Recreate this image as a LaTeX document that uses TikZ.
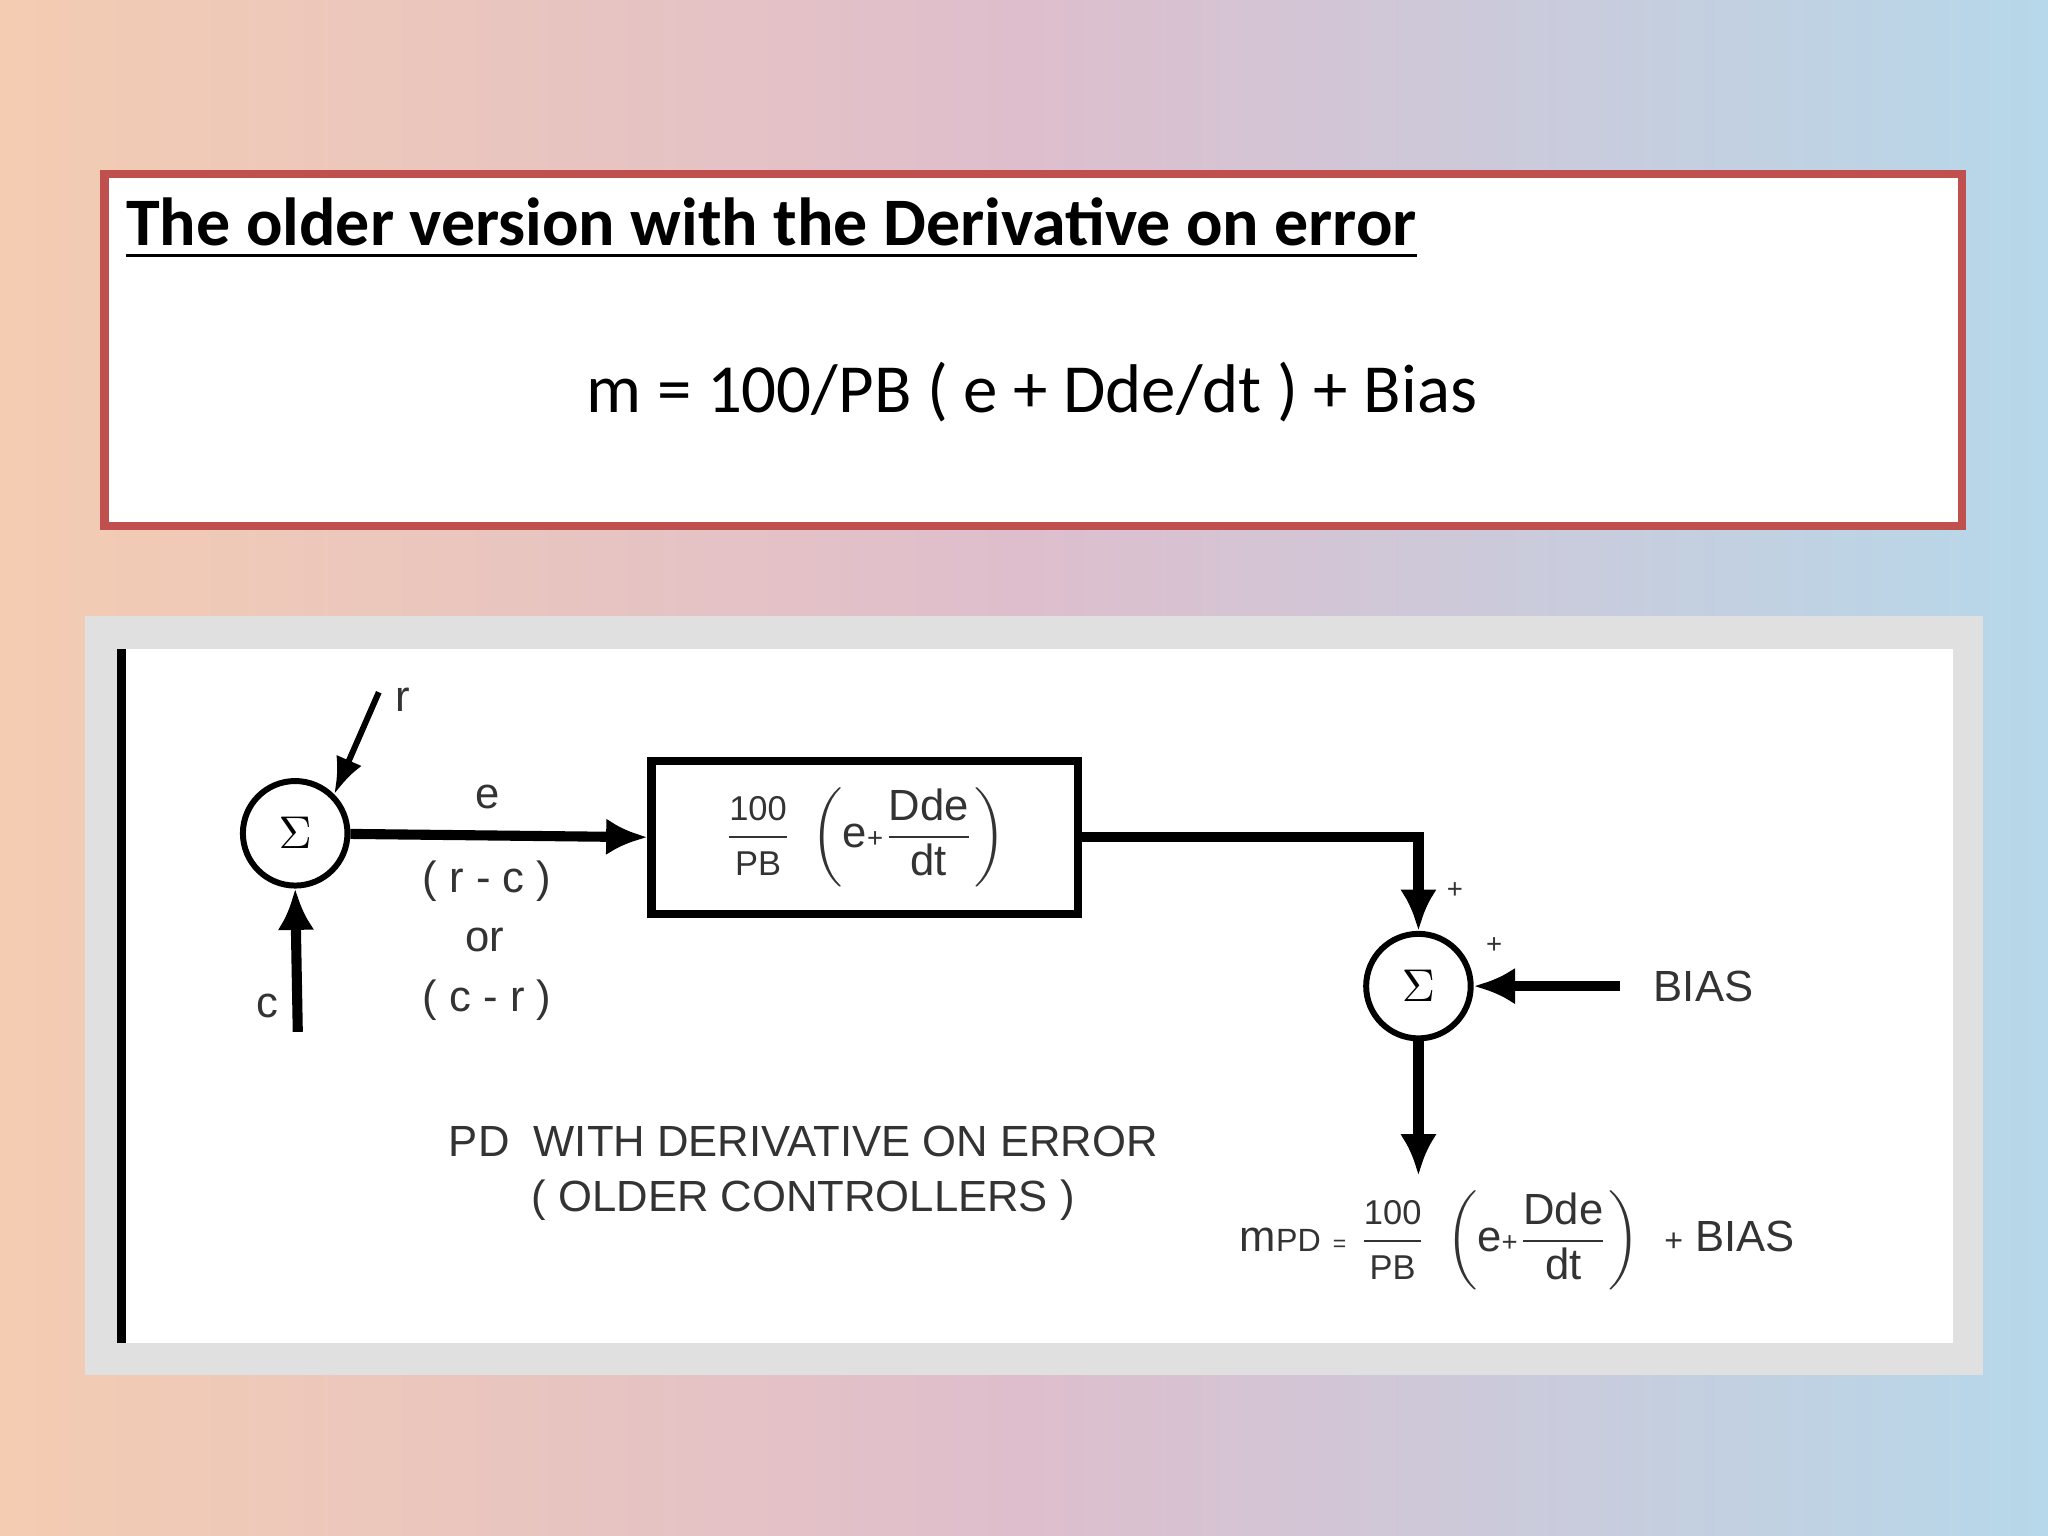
\documentclass[tikz,border=0pt]{standalone}
\usepackage{fontspec}
\setmainfont{Carlito}
\newfontfamily\arial{Liberation Sans}
\usepackage{amsmath}
\usetikzlibrary{arrows.meta}
\newcommand{\pdexpr}{$\displaystyle\frac{\text{\arial\fontsize{7.5}{9}\selectfont 100}}{\text{\arial\fontsize{7.5}{9}\selectfont PB}}\ \left(\text{\arial e{\fontsize{6}{7}\selectfont +}}\frac{\text{\arial Dde}}{\text{\arial dt}}\right)$}
\begin{document}
\begin{tikzpicture}[x=0.01cm,y=-0.01cm,
  lbl/.style={font=\arial\fontsize{9.5}{12}\selectfont, text=black!80, inner sep=1pt},
  arr/.style={line width=2.2pt,-{Latex[length=9pt,width=8pt]}},
  sumc/.style={circle, draw, line width=1.3pt, minimum size=0.8cm, inner sep=0pt, fill=white}]
\useasboundingbox (0,0) rectangle (1568,1176);
\shade[left color={rgb,255:red,244;green,204;blue,178}, right color={rgb,255:red,182;green,216;blue,234}, middle color={rgb,255:red,222;green,190;blue,205}] (0,0) rectangle (1568,1176);
% top box
\draw[fill=white, draw={rgb,255:red,192;green,80;blue,77}, line width=1.8pt] (80,133) rectangle (1502,403);
\node[anchor=west, font=\bfseries\fontsize{14.8}{18}\selectfont, inner sep=0pt] (title) at (96,175) {\underline{The older version with the Derivative on error}};
\node[font=\fontsize{15}{18}\selectfont] (formula) at (790,300) {m = 100/PB ( e + Dde/dt ) + Bias};
% frame
\fill[black!12] (65,472) rectangle (1518,1053);
\fill[white] (92,497) rectangle (1495,1028);
\draw[line width=2pt] (93,497) -- (93,1028);
% nodes
\node[sumc] (s1) at (226,638) {\arial$\Sigma$};
\node[sumc] (s2) at (1086,755) {\arial$\Sigma$};
\node[draw, line width=1.8pt, minimum width=3.26cm, minimum height=1.17cm, text=black!80, font=\arial\fontsize{9.5}{12}\selectfont] (box) at (662,641) {\pdexpr};
\coordinate (rs) at (290,530);
\coordinate (cs) at (228,790);
\coordinate (bs) at (1240,755);
\coordinate (out) at (1086,900);
\draw[arr] (s1) -- (box.west);
\draw[arr] (box.east) -| (s2.north);
\draw[arr] (bs) -- (s2.east);
\draw[arr] (s2.south) -- (out);
\draw[line width=1.3pt,-{Latex[length=8pt,width=6pt]}] (rs) -- (s1.north east);
\draw[arr] (cs) -- (s1.south);
% labels
\node[lbl] (lr) at (308,536) {r};
\node[lbl] (lc) at (205,770) {c};
\node[lbl] (le) at (373,610) {e};
\node[lbl] (l1) at (373,675) {( r - c )};
\node[lbl] (l2) at (371,720) {or};
\node[lbl] (l3) at (373,766) {( c - r )};
\node[lbl, font=\arial\fontsize{6}{7}\selectfont] (p1) at (1114,682) {+};
\node[lbl, font=\arial\fontsize{6}{7}\selectfont] (p2) at (1144,724) {+};
\node[lbl, anchor=west] (bias) at (1262,755) {BIAS};
\node[lbl, align=center] (cap) at (615,898) {PD\ \ WITH DERIVATIVE ON ERROR\\( OLDER CONTROLLERS )};
\node[lbl, anchor=west] (eq) at (945,950) {m{\fontsize{7}{8}\selectfont PD} {\fontsize{5}{6}\selectfont =}\ \pdexpr\ \ {\fontsize{7}{8}\selectfont +}\ BIAS};
\end{tikzpicture}
\end{document}
